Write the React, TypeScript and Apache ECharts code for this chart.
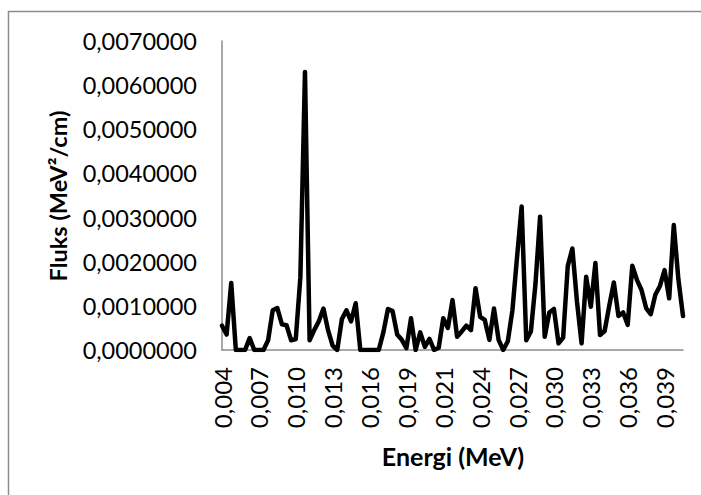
import React, { useEffect, useRef } from "react";
import * as echarts from "echarts";

// Energy tick labels (MeV) shown every 8th category
const ENERGY_TICKS = [
  "0,004", "0,007", "0,010", "0,013", "0,016", "0,019", "0,021",
  "0,024", "0,027", "0,030", "0,033", "0,036", "0,039",
];
const TICK_STEP = 8;

// Flux values (MeV²/cm)
const FLUX = [
  0.00055, 0.00035, 0.00152, 0, 0, 0, 0.00027, 0, 0, 0,
  0.00022, 0.0009, 0.00095, 0.00058, 0.00056, 0.00022, 0.00025, 0.00165, 0.0063, 0.00022,
  0.00045, 0.00065, 0.00094, 0.00045, 0.0001, 0, 0.0007, 0.0009, 0.00065, 0.00106,
  0, 0, 0, 0, 0, 0.0004, 0.00093, 0.00088, 0.00035, 0.00023,
  0.00004, 0.00072, 0, 0.0004, 0.00007, 0.00025, 0, 0.00005, 0.00072, 0.0005,
  0.00113, 0.0003, 0.00042, 0.00055, 0.00045, 0.0014, 0.00075, 0.00068, 0.00023, 0.00094,
  0.00023, 0, 0.0002, 0.0009, 0.0021, 0.00325, 0.00022, 0.00042, 0.0015, 0.00302,
  0.0003, 0.00085, 0.00093, 0.00015, 0.00028, 0.0019, 0.0023, 0.0011, 0.00015, 0.00166,
  0.00098, 0.00197, 0.00034, 0.00043, 0.001, 0.00153, 0.00077, 0.00085, 0.00057, 0.00191,
  0.00159, 0.00136, 0.00095, 0.00081, 0.00125, 0.00145, 0.00181, 0.00117, 0.00283, 0.0016,
  0.00077,
];

const Y_MIN = 0;
const Y_MAX = 0.007;
const Y_STEP = 0.001;

const X_TITLE = "Energi (MeV)";
const Y_TITLE = "Fluks (MeV²/cm)";

const FONT = "Lato, 'Open Sans', sans-serif";

export default function App() {
  const ref = useRef<HTMLDivElement>(null);

  useEffect(() => {
    if (!ref.current) return;
    const chart = echarts.init(ref.current, null, { renderer: "svg" });
    const categories = FLUX.map((_, i) =>
      i % TICK_STEP === 0 ? ENERGY_TICKS[i / TICK_STEP] ?? "" : ""
    );
    chart.setOption({
      animation: false,
      backgroundColor: "#ffffff",
      textStyle: { fontFamily: FONT },
      grid: { left: 222, right: 18, top: 41, bottom: 145, containLabel: false },
      xAxis: {
        type: "category",
        data: categories,
        boundaryGap: false,
        axisLine: { lineStyle: { color: "#8c8c8c", width: 1.5 } },
        axisTick: { show: false },
        axisLabel: {
          interval: TICK_STEP - 1,
          rotate: 90,
          margin: 17,
          color: "#000",
          fontSize: 24,
          fontFamily: FONT,
        },
        splitLine: { show: false },
      },
      yAxis: {
        type: "value",
        min: Y_MIN,
        max: Y_MAX,
        interval: Y_STEP,
        axisLine: { show: true, lineStyle: { color: "#8c8c8c", width: 1.5 } },
        axisTick: { show: false },
        splitLine: { show: false },
        axisLabel: {
          margin: 25,
          color: "#000",
          fontSize: 23.5,
          fontFamily: FONT,
          formatter: (v: number) => v.toFixed(7).replace(".", ","),
        },
      },
      graphic: [
        {
          type: "rect",
          shape: { x: 8.5, y: 11.5, width: 720, height: 520 },
          style: { fill: "none", stroke: "#8c8c8c", lineWidth: 1.5 },
          silent: true,
        },
        {
          type: "text",
          x: 453,
          y: 456,
          style: {
            text: X_TITLE,
            font: `bold 25px ${FONT}`,
            fill: "#000",
            align: "center",
            verticalAlign: "middle",
          },
        },
        {
          type: "text",
          x: 58,
          y: 196,
          rotation: Math.PI / 2,
          style: {
            text: Y_TITLE,
            font: `bold 23.5px ${FONT}`,
            fill: "#000",
            align: "center",
            verticalAlign: "middle",
          },
        },
      ],
      series: [
        {
          type: "line",
          data: FLUX,
          showSymbol: false,
          symbol: "none",
          lineStyle: { color: "#000", width: 4.5, join: "round", cap: "round" },
        },
      ],
    });
    return () => chart.dispose();
  }, []);

  return (
    <div
      ref={ref}
      style={{ position: "fixed", left: 0, top: 0, width: 701, height: 495 }}
    />
  );
}
